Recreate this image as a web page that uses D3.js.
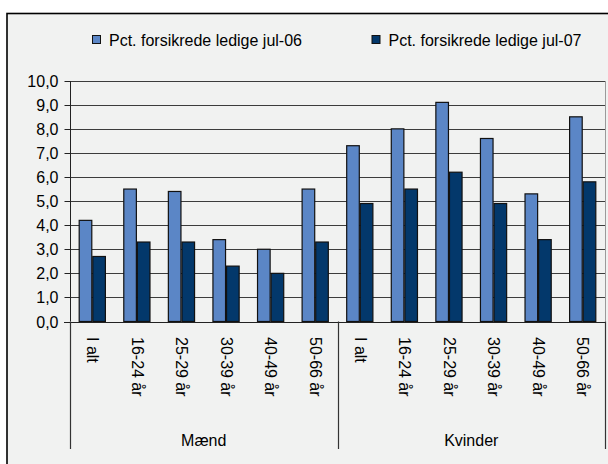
<!DOCTYPE html>
<html>
<head>
<meta charset="utf-8">
<script src="https://cdn.jsdelivr.net/npm/d3@7"></script>
<style>
  html, body { margin: 0; padding: 0; background: #ffffff; }
  svg { display: block; }
  text { font-family: "Liberation Sans", Arial, sans-serif; fill: #000; }
</style>
</head>
<body>
<svg id="chart" width="608" height="464"></svg>
<script>
const groups = ["Mænd", "Kvinder"];
const categories = ["I alt", "16-24 år", "25-29 år", "30-39 år", "40-49 år", "50-66 år"];
const seriesNames = ["Pct. forsikrede ledige jul-06", "Pct. forsikrede ledige jul-07"];
const jul06 = [4.2, 5.5, 5.4, 3.4, 3.0, 5.5, 7.3, 8.0, 9.1, 7.6, 5.3, 8.5];
const jul07 = [2.7, 3.3, 3.3, 2.3, 2.0, 3.3, 4.9, 5.5, 6.2, 4.9, 3.4, 5.8];
const yTicks = [0, 1, 2, 3, 4, 5, 6, 7, 8, 9, 10];
const colors = ["#5b86c6", "#03386b"];

const svg = d3.select("#chart");
const plot = { left: 70, right: 605, top: 80.7, bottom: 321.5 };

// chart background + border
svg.append("rect").attr("x", 7).attr("y", 13.5).attr("width", 640).attr("height", 500)
  .attr("fill", "#f1f2f1").attr("stroke", "#000").attr("stroke-width", 1.6);

// build rows
const rows = [];
groups.forEach((g, gi) => categories.forEach((c, ci) => {
  const i = gi * categories.length + ci;
  rows.push({ key: g + "|" + c, group: g, cat: c, values: [jul06[i], jul07[i]] });
}));

const x = d3.scaleBand().domain(rows.map(d => d.key))
  .range([plot.left, plot.right]).paddingInner(0.39).paddingOuter(0.195);
const x1 = d3.scaleBand().domain([0, 1]).range([0, x.bandwidth()]);
const y = d3.scaleLinear().domain([0, 10]).range([plot.bottom, plot.top]);

// gridlines
svg.append("g").selectAll("line").data(yTicks.filter(t => t > 0)).join("line")
  .attr("x1", plot.left).attr("x2", plot.right)
  .attr("y1", d => Math.round(y(d)) + 0.5).attr("y2", d => Math.round(y(d)) + 0.5)
  .attr("stroke", "#3c3c3c").attr("stroke-width", 1);

// right plot border
svg.append("line").attr("x1", plot.right + 0.5).attr("x2", plot.right + 0.5)
  .attr("y1", Math.round(y(10))).attr("y2", plot.bottom)
  .attr("stroke", "#9a9a9a").attr("stroke-width", 1);

// y axis
const yAxis = d3.axisLeft(y).tickValues(yTicks).tickSize(6).tickPadding(6)
  .tickFormat(d => d3.format(".1f")(d).replace(".", ","));
const yg = svg.append("g").attr("transform", `translate(${plot.left + 0.5},0.5)`).call(yAxis);
yg.select(".domain").remove();
yg.selectAll(".tick line").attr("stroke", "#222");
yg.selectAll(".tick text").attr("font-size", 16)
  .attr("font-family", "'Liberation Sans', Arial, sans-serif").attr("fill", "#000");
yg.selectAll(".tick").attr("transform", d => `translate(0,${Math.round(y(d))})`);
svg.append("line").attr("x1", plot.left + 0.5).attr("x2", plot.left + 0.5)
  .attr("y1", Math.round(y(10))).attr("y2", plot.bottom).attr("stroke", "#222");

// bars
const bg = svg.append("g").selectAll("g").data(rows).join("g")
  .attr("transform", d => `translate(${x(d.key)},0)`);
bg.selectAll("rect").data(d => d.values.map((v, i) => ({ v, i }))).join("rect")
  .attr("x", d => x1(d.i) + 0.5)
  .attr("y", d => y(d.v))
  .attr("width", x1.bandwidth() - 1)
  .attr("height", d => plot.bottom - y(d.v))
  .attr("fill", d => colors[d.i])
  .attr("stroke", "#111").attr("stroke-width", 1.2);

// x axis baseline
svg.append("line").attr("x1", plot.left - 6).attr("x2", plot.right)
  .attr("y1", Math.round(plot.bottom) + 0.5).attr("y2", Math.round(plot.bottom) + 0.5)
  .attr("stroke", "#222").attr("stroke-width", 1.2);

// category labels (rotated)
svg.append("g").selectAll("text").data(rows).join("text")
  .attr("transform", d => `translate(${x(d.key) + x.bandwidth() / 2},337) rotate(90)`)
  .attr("dy", "0.33em")
  .attr("font-size", 16).attr("text-anchor", "start")
  .text(d => d.cat);

// group separators and labels
const step = x.step();
const edge = key => x(key) - x.paddingInner() * step / 2;
const bounds = [edge(rows[0].key), edge(rows[categories.length].key), plot.right];
svg.append("g").selectAll("line").data(bounds).join("line")
  .attr("x1", d => Math.round(d) + 0.5).attr("x2", d => Math.round(d) + 0.5)
  .attr("y1", plot.bottom).attr("y2", 449)
  .attr("stroke", "#333").attr("stroke-width", 1.2);
svg.append("g").selectAll("text").data(groups).join("text")
  .attr("x", (d, i) => (bounds[i] + bounds[i + 1]) / 2)
  .attr("y", 445.5).attr("text-anchor", "middle").attr("font-size", 16)
  .text(d => d);

// legend
const legendX = [92, 371.5];
const lg = svg.append("g").selectAll("g").data(seriesNames).join("g")
  .attr("transform", (d, i) => `translate(${legendX[i]},0)`);
lg.append("rect").attr("x", 0.5).attr("y", 35.5).attr("width", 8).attr("height", 8)
  .attr("fill", (d, i) => colors[i]).attr("stroke", "#111").attr("stroke-width", 1);
lg.append("text").attr("x", 17).attr("y", 45.5).attr("font-size", 16)
  .text(d => d);
</script>
</body>
</html>
